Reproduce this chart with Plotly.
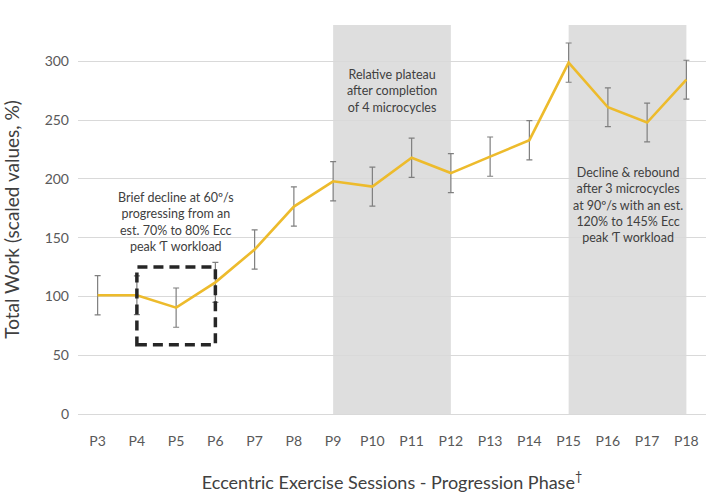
import plotly.graph_objects as go

sessions = ["P3", "P4", "P5", "P6", "P7", "P8", "P9", "P10", "P11", "P12",
            "P13", "P14", "P15", "P16", "P17", "P18"]
total_work = [101, 101, 90.5, 112, 140, 176.5, 198, 193.5, 218, 205,
              219, 233, 299, 261, 248, 284.5]
error = [16.7, 16.5, 16.7, 17, 16.7, 16.7, 16.7, 16.6, 16.7, 16.6,
         16.7, 16.7, 16.7, 16.5, 16.5, 16.5]
y_ticks = [0, 50, 100, 150, 200, 250, 300]

FONT = "Lato"
TXT = "#404040"
TICK = "#595959"

fig = go.Figure()
fig.add_trace(go.Scatter(
    x=sessions, y=total_work, mode="lines",
    line=dict(color="#EDBB2C", width=2.6),
    error_y=dict(type="data", array=error, visible=True,
                 color="#7F7F7F", thickness=1.2, width=3),
    showlegend=False, hoverinfo="skip"))

# shaded phases
for a, b in [(6, 9), (12, 15)]:
    fig.add_shape(type="rect", xref="x", yref="paper",
                  x0=sessions[a], x1=sessions[b], y0=0, y1=1,
                  fillcolor="#DEDEDE", line=dict(width=0), layer="below")

# dashed box
fig.add_shape(type="rect", xref="x", yref="y",
              x0=sessions[1], x1=sessions[3], y0=59, y1=125,
              line=dict(color="#262626", width=3.5, dash="10px,6px"),
              fillcolor="rgba(0,0,0,0)", layer="above")

ann_font = dict(family=FONT, size=12.5, color=TXT)
fig.add_annotation(x=2, y=163.5, xref="x", yref="y", showarrow=False,
                   text="Brief decline at 60º/s<br>progressing from an<br>est. 70% to 80% Ecc<br>peak Ƭ workload",
                   font=ann_font, align="center")
fig.add_annotation(x=7.5, y=275, xref="x", yref="y", showarrow=False,
                   text="Relative plateau<br>after completion<br>of 4 microcycles",
                   font=ann_font, align="center")
fig.add_annotation(x=13.5, y=178, xref="x", yref="y", showarrow=False,
                   text="Decline & rebound<br>after 3 microcycles<br>at 90º/s with an est.<br>120% to 145% Ecc<br>peak Ƭ workload",
                   font=ann_font, align="center")

fig.update_xaxes(
    type="category", range=[-0.5, 15.5],
    showgrid=False, showline=False, zeroline=False, ticks="",
    tickfont=dict(family=FONT, size=14, color=TICK),
    ticklabelstandoff=17,
    title=dict(text="Eccentric Exercise Sessions - Progression Phase<sup>†</sup>",
               font=dict(family=FONT, size=18, color=TXT), standoff=28))
fig.update_yaxes(
    range=[0, 331], tickvals=y_ticks,
    showgrid=True, gridcolor="#D9D9D9", gridwidth=1,
    zeroline=True, zerolinecolor="#D9D9D9", zerolinewidth=1,
    showline=False, ticks="",
    tickfont=dict(family=FONT, size=14, color=TICK),
    ticklabelstandoff=8,
    title=dict(text="Total Work (scaled values, %)",
               font=dict(family=FONT, size=19, color=TXT), standoff=22))

fig.update_layout(
    width=708, height=493,
    margin=dict(l=78, r=2, t=25, b=79, autoexpand=False),
    plot_bgcolor="white", paper_bgcolor="white",
    font=dict(family=FONT, color=TXT))

fig.write_html("out.html", config={"displayModeBar": False},
               post_script="document.body.style.margin='0';document.body.style.padding='0';")
